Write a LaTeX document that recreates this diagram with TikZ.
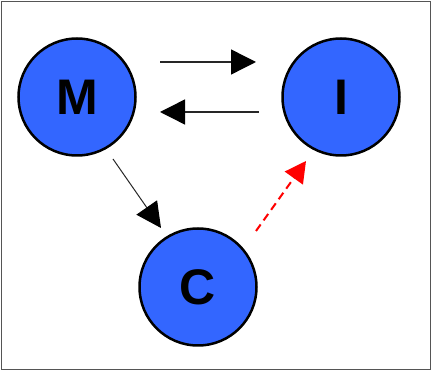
\documentclass[tikz,border=0pt]{standalone}
\usepackage{fontspec}
\setmainfont{Liberation Sans}
\usetikzlibrary{arrows.meta}
\definecolor{nodeblue}{HTML}{3366FF}
\definecolor{framegray}{HTML}{555555}
\begin{document}
\begin{tikzpicture}[x=1pt,y=-1pt,
  state/.style={circle,draw=black,line width=2.5pt,fill=nodeblue,minimum size=117pt,inner sep=0pt,font=\fontsize{50}{50}\selectfont\bfseries},
  conn/.style={draw=black!85,line width=1.4pt,-{Triangle[length=25pt,width=25pt,color=black]}},
  redconn/.style={draw=red,line width=2pt,dash pattern=on 8pt off 5pt,-{Triangle[length=21pt,width=22pt]}}]
\useasboundingbox (0,0) rectangle (432,371);
\draw[framegray,line width=1.5pt] (1.5,1.5) rectangle (430.5,369.5);
\node[state] (M) at (77,97) {M};
\node[state] (I) at (341,97) {I};
\node[state] (C) at (198,287) {C};
\coordinate (a1) at (160,62);
\coordinate (a2) at (256,62);
\coordinate (b1) at (259,112);
\coordinate (b2) at (160,112);
\coordinate (c1) at (113,159);
\coordinate (c2) at (161,228);
\coordinate (d1) at (256,231);
\coordinate (d2) at (306,161);
\draw[conn] (a1) -- (a2);
\draw[conn] (b1) -- (b2);
\draw[conn,line width=1pt] (c1) -- (c2);
\draw[redconn] (d1) -- (d2);
\end{tikzpicture}
\end{document}
